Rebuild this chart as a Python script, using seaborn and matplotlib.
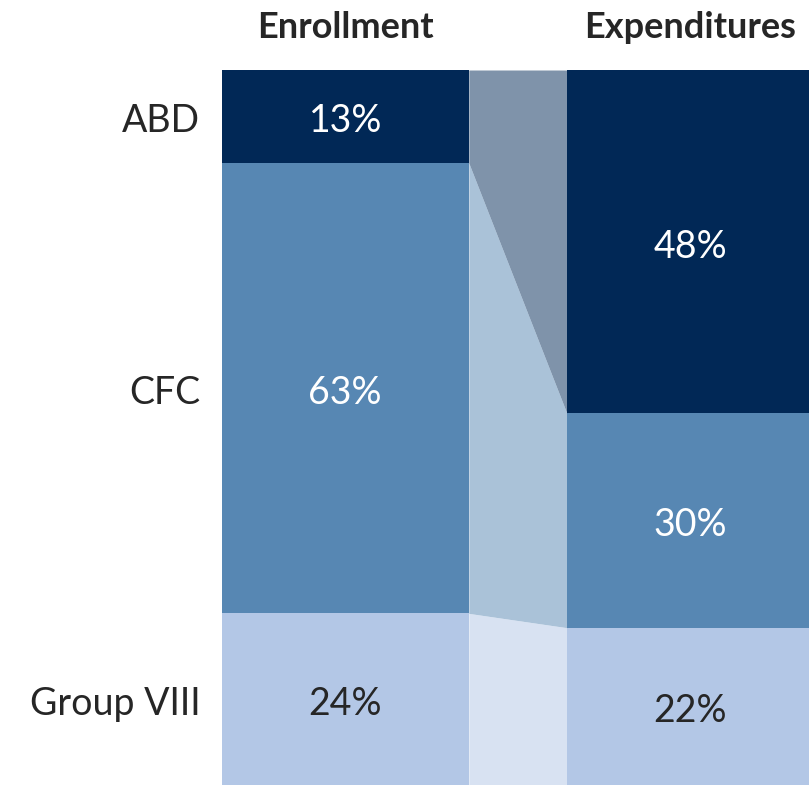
import pandas as pd
import seaborn as sns
from matplotlib import pyplot as plt

# data
stages = ['Enrollment', 'Expenditures']
groups = ['ABD', 'CFC', 'Group VIII']
enrollment = [13, 63, 24]
expenditures = [48, 30, 22]
colors = ['#012856', '#5787B3', '#B3C7E6']
label_colors = ['white', 'white', '#262626']

BAR_W = 0.716

sns.set_theme(style='white')
plt.rcParams['font.family'] = ['Lato', 'DejaVu Sans']

fig = plt.figure(figsize=(8.09, 7.85), dpi=100)
ax = fig.add_axes([0, 0, 1, 715 / 785])

df = pd.DataFrame({'stage': stages * 3,
                   'group': [g for g in groups for _ in stages],
                   'share': [v for pair in zip(enrollment, expenditures) for v in pair]})

bottom = [0, 0]
tops = {s: [0] for s in stages}
for g, c in zip(groups, colors):
    sub = df[df['group'] == g]
    sns.barplot(data=sub, x='stage', y='share', order=stages, color=c,
                width=BAR_W, bottom=list(bottom), linewidth=0, saturation=1,
                errorbar=None, ax=ax)
    bottom = [b + v for b, v in zip(bottom, sub['share'].tolist())]
    for s, b in zip(stages, bottom):
        tops[s].append(b)

# connectors between bars
xl, xr = BAR_W / 2, 1 - BAR_W / 2
e, x = tops['Enrollment'], tops['Expenditures']
for i, c in enumerate(colors):
    ax.fill_between([xl, xr], [e[i], x[i]], [e[i + 1], x[i + 1]],
                    color=c, alpha=0.5, linewidth=0)

# value labels
for j, s in enumerate(stages):
    vals = enrollment if j == 0 else expenditures
    t = tops[s]
    for i, v in enumerate(vals):
        ax.text(j, (t[i] + t[i + 1]) / 2 + 0.7, f'{v}%', ha='center', va='center',
                color=label_colors[i], fontsize=27)

# category labels
for i, g in enumerate(groups):
    ax.text(-0.42, (e[i] + e[i + 1]) / 2 + 0.7, g, ha='right', va='center',
            color='#262626', fontsize=27)

# column titles
for j, s in enumerate(stages):
    ax.text(j, -5.9, s, ha='center', va='center', color='#262626',
            fontsize=26, fontweight='bold', clip_on=False)

ax.set_xlim(-1.0, 1.3435)
ax.set_ylim(100, 0)
ax.set_axis_off()

fig.savefig('out.png', dpi=100)
